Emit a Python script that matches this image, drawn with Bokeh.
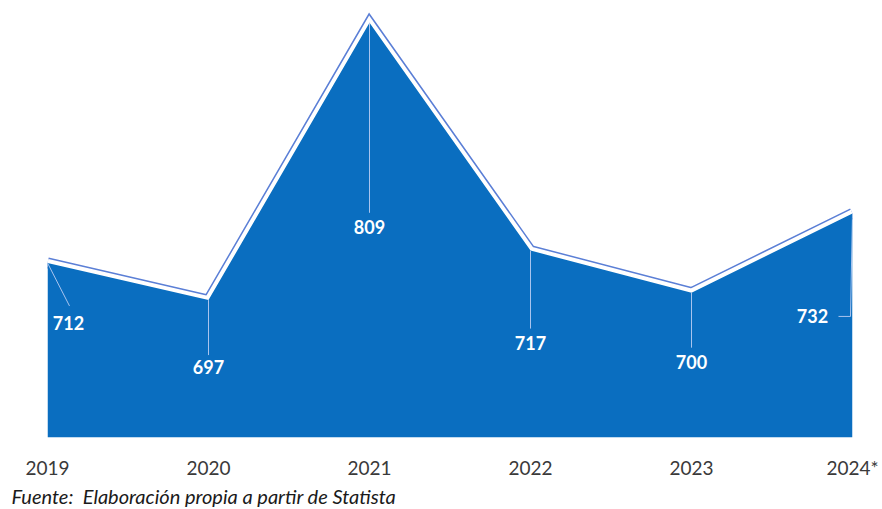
from bokeh.plotting import figure
from bokeh.models import Range1d, Label, FixedTicker, Title
from bokeh.embed import file_html
from bokeh.resources import INLINE

# ---- data ----
years = ["2019", "2020", "2021", "2022", "2023", "2024*"]
values = [712, 697, 809, 717, 700, 732]
source_text = "Fuente:\u00a0 Elaboración propia a partir de Statista"

# ---- layout (pixels) ----
W, H = 882, 509
B_LEFT, B_RIGHT, B_TOP, B_BOTTOM = 47, 30, 0, 72
Y0, Y1 = 641.5, 818.0
frame_w = W - B_LEFT - B_RIGHT
frame_h = H - B_TOP - B_BOTTOM
n = len(years)
xs = list(range(n))
dpx = (n - 1) / frame_w   # data units per px (x)
dpy = (Y1 - Y0) / frame_h  # data units per px (y)

# label offsets from each point in px (dx right, dy down)
label_dx = [21, 0, 0, 0, 0, -40]
label_dy = [60, 67, 204, 92, 69, 103]
# leader paths in px offsets (dx, dy down)
leaders = [
    [(0, 0), (22, 43)],
    [(0, 0), (0, 55)],
    [(0, 0), (0, 190)],
    [(0, 0), (0, 78)],
    [(0, 0), (0, 55)],
    [(0, 0), (-2, 103), (-14, 103)],
]

FILL = "#0A6EC0"
EDGE = "#5B7FD6"

p = figure(width=W, height=H, x_range=Range1d(0, n - 1), y_range=Range1d(Y0, Y1),
           output_backend="svg", toolbar_location=None,
           min_border_left=B_LEFT, min_border_right=B_RIGHT,
           min_border_top=B_TOP, min_border_bottom=B_BOTTOM)
p.outline_line_color = None
p.grid.visible = False
p.yaxis.visible = False

xa = p.xaxis[0]
xa.ticker = FixedTicker(ticks=xs)
xa.major_label_overrides = {i: y for i, y in enumerate(years)}
xa.axis_line_color = None
xa.major_tick_line_color = None
xa.minor_tick_line_color = None
xa.major_tick_out = 0
xa.major_tick_in = 0
xa.major_label_standoff = 18
xa.major_label_text_font = "Lato"
xa.major_label_text_font_size = "19px"
xa.major_label_text_color = "#3a3a3a"

# source note
p.add_layout(Title(text=source_text, align="left", offset=-36, standoff=1,
                   text_color="#1a1a1a", text_font="Lato", text_font_style="italic",
                   text_font_size="20px"), "below")

# edge effect: light blue rim, white gap, then fill
p.line(xs, values, line_color=EDGE, line_width=11, line_join="miter")
p.line(xs, values, line_color="white", line_width=8, line_join="miter")
p.varea(x=xs, y1=[Y0] * n, y2=values, fill_color=FILL)

# leader lines
lx, ly = [], []
for i, path in enumerate(leaders):
    lx.append([xs[i] + dx * dpx for dx, dy in path])
    ly.append([values[i] - dy * dpy for dx, dy in path])
p.multi_line(lx, ly, line_color="#A9C4EE", line_width=1)

# value labels
for i, v in enumerate(values):
    p.add_layout(Label(x=xs[i] + label_dx[i] * dpx, y=v - label_dy[i] * dpy,
                       text=str(v), text_align="center", text_baseline="middle",
                       text_color="white", text_font="Lato", text_font_style="bold",
                       text_font_size="18px"))

open("out.html", "w").write(file_html(p, INLINE))
